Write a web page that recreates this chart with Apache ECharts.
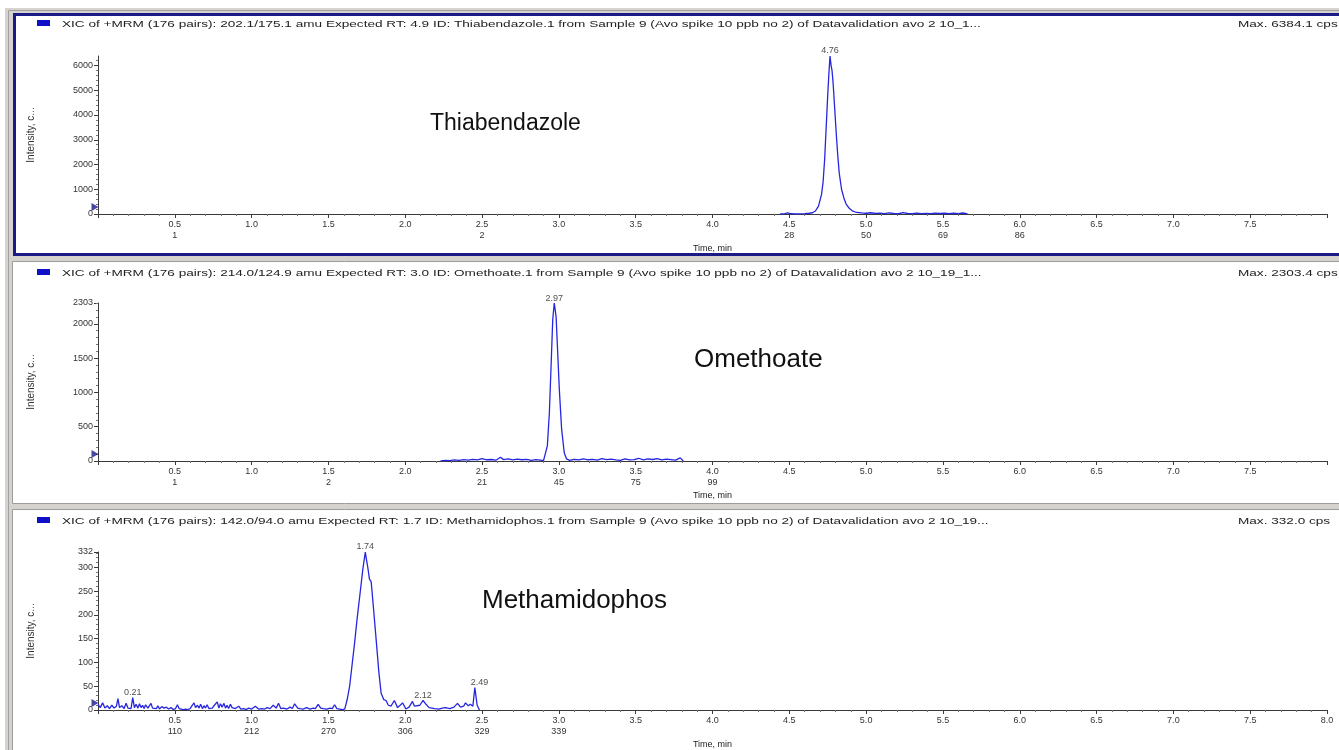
<!DOCTYPE html>
<html><head><meta charset="utf-8">
<script src="https://cdn.jsdelivr.net/npm/echarts@6/dist/echarts.min.js"></script>
<style>html,body{margin:0;padding:0;background:#fff}#c{width:1339px;height:750px}</style>
</head><body><div id="c"></div>
<script>
// ---------- DATA ----------
const headers = [
  'XIC of +MRM (176 pairs): 202.1/175.1 amu Expected RT: 4.9 ID: Thiabendazole.1 from Sample 9 (Avo spike 10 ppb no 2) of Datavalidation avo 2 10_1...',
  'XIC of +MRM (176 pairs): 214.0/124.9 amu Expected RT: 3.0 ID: Omethoate.1 from Sample 9 (Avo spike 10 ppb no 2) of Datavalidation avo 2 10_19_1...',
  'XIC of +MRM (176 pairs): 142.0/94.0 amu Expected RT: 1.7 ID: Methamidophos.1 from Sample 9 (Avo spike 10 ppb no 2) of Datavalidation avo 2 10_19...'
];
const maxTexts = ['Max. 6384.1 cps', 'Max. 2303.4 cps', 'Max. 332.0 cps'];
const compounds = ['Thiabendazole', 'Omethoate', 'Methamidophos'];
const yMax = [6384.1, 2303.4, 332.0];
const yLabelValues1 = [0, 1000, 2000, 3000, 4000, 5000, 6000];
const yLabelValues2 = [0, 500, 1000, 1500, 2000, 2303.4];
const yLabelValues3 = [0, 50, 100, 150, 200, 250, 300, 332.0];
const xMax = 8.0;

// secondary (scan number) labels under time ticks
const scanTimes1 = [0.5, 2.5, 4.5, 5.0, 5.5, 6.0];
const scanNums1  = ['1', '2', '28', '50', '69', '86'];
const scanTimes2 = [0.5, 1.5, 2.5, 3.0, 3.5, 4.0];
const scanNums2  = ['1', '2', '21', '45', '75', '99'];
const scanTimes3 = [0.5, 1.0, 1.5, 2.0, 2.5, 3.0];
const scanNums3  = ['110', '212', '270', '306', '329', '339'];

// Thiabendazole trace
const thiaTime = [4.44,4.47,4.49,4.51,4.54,4.57,4.60,4.63,4.65,4.67,4.69,4.71,4.72,4.73,4.74,4.75,4.757,4.765,4.772,4.778,4.785,4.795,4.805,4.815,4.825,4.84,4.855,4.87,4.89,4.91,4.93,4.95,4.97,5.00,5.03,5.06,5.09,5.12,5.15,5.18,5.21,5.24,5.27,5.30,5.33,5.36,5.39,5.42,5.45,5.48,5.51,5.54,5.57,5.60,5.63,5.66];
const thiaInt  = [0,15,45,10,0,5,15,30,50,120,320,800,1300,2200,3500,4800,5600,6384,6000,5800,5300,4300,3300,2400,1650,1000,650,400,230,130,80,60,45,30,50,20,35,15,45,20,10,55,20,15,35,10,25,15,35,20,30,10,30,15,40,0];

// Omethoate trace
const omeTime = [2.23,2.26,2.29,2.32,2.35,2.38,2.41,2.44,2.47,2.50,2.53,2.56,2.59,2.62,2.64,2.67,2.70,2.73,2.76,2.79,2.82,2.85,2.88,2.90,2.91,2.925,2.938,2.95,2.96,2.97,2.982,2.99,3.003,3.018,3.035,3.05,3.07,3.10,3.13,3.16,3.19,3.22,3.25,3.28,3.31,3.34,3.37,3.40,3.43,3.46,3.49,3.52,3.55,3.58,3.61,3.64,3.67,3.70,3.73,3.76,3.79,3.81];
const omeInt  = [0,8,5,15,10,20,12,25,15,35,18,22,12,55,20,30,15,28,18,25,10,20,12,5,15,220,700,1430,2060,2303,2100,1700,1040,460,120,30,10,25,15,30,18,25,12,35,20,28,15,10,30,15,20,40,18,30,22,35,15,28,20,12,45,0];

// Methamidophos trace
const metTime = [0.00,0.015,0.03,0.045,0.06,0.075,0.09,0.105,0.12,0.13,0.14,0.155,0.17,0.183,0.195,0.205,0.215,0.226,0.237,0.248,0.26,0.27,0.28,0.29,0.30,0.31,0.325,0.335,0.345,0.355,0.366,0.38,0.39,0.40,0.415,0.43,0.445,0.46,0.475,0.49,0.505,0.517,0.528,0.54,0.555,0.57,0.585,0.60,0.612,0.625,0.635,0.647,0.658,0.668,0.68,0.69,0.70,0.71,0.722,0.733,0.744,0.755,0.766,0.776,0.787,0.797,0.808,0.82,0.83,0.84,0.85,0.862,0.873,0.884,0.894,0.905,0.916,0.93,0.948,0.965,0.98,1.00,1.024,1.045,1.067,1.085,1.10,1.12,1.14,1.16,1.175,1.19,1.207,1.23,1.25,1.265,1.28,1.30,1.315,1.335,1.358,1.38,1.40,1.415,1.433,1.45,1.466,1.49,1.51,1.525,1.54,1.555,1.573,1.59,1.606,1.622,1.638,1.654,1.670,1.686,1.703,1.724,1.74,1.748,1.756,1.767,1.778,1.793,1.810,1.828,1.843,1.860,1.875,1.89,1.907,1.929,1.95,1.967,1.983,2.004,2.025,2.047,2.06,2.073,2.095,2.116,2.135,2.155,2.19,2.22,2.24,2.263,2.29,2.317,2.34,2.36,2.38,2.392,2.41,2.424,2.44,2.453,2.468,2.483,2.495,2.51];
const metInt  = [12,5,15,4,9,3,10,4,8,24,5,9,3,14,4,6,3,26,5,12,4,13,5,10,3,11,4,9,14,4,8,3,9,2,7,4,6,2,5,1,3,11,3,6,1,2,1,3,9,15,5,10,4,12,3,9,4,11,3,7,4,9,5,17,4,13,6,14,4,10,3,12,5,9,3,7,8,2,3,1,4,2,8,2,3,2,5,3,10,4,14,3,4,2,6,3,13,4,3,2,5,2,4,3,12,4,3,2,4,3,11,3,2,1,2,22,50,95,140,190,237,296,332,315,300,275,270,215,150,80,35,22,20,10,8,20,5,10,15,2,6,18,8,5,10,20,12,5,3,2,4,5,3,6,14,6,8,15,9,12,8,47,10,0];

// peak annotations: [time, intensity, text]
const peaks1 = [[4.765, 6384, '4.76']];
const peaks2 = [[2.97, 2303, '2.97']];
const peaks3 = [[1.74, 332, '1.74'], [0.226, 26, '0.21'], [2.116, 20, '2.12'], [2.483, 47, '2.49']];

// ---------- CHART ----------
const FONT = '"Liberation Sans", Arial, sans-serif';
const LINE = '#2626e0';
const AX = '#3a3a3a';
const gridTops = [56, 303, 552];
const gridH = 158;
const panelTops = [12, 261, 509];

function zip(a, b) { return a.map((t, i) => [t, b[i]]); }

function xAxis(i, scanTimes, scanNums, showEnd) {
  return {
    type: 'value', gridIndex: i, min: 0, max: xMax, interval: 0.5,
    name: 'Time, min', nameLocation: 'middle', nameGap: 30,
    nameTextStyle: { fontFamily: FONT, fontSize: 9, color: '#222' },
    axisLine: { show: true, lineStyle: { color: AX, width: 1 } },
    axisTick: { show: true, length: 4, lineStyle: { color: AX } },
    minorTick: { show: true, splitNumber: 5, length: 2, lineStyle: { color: '#777' } },
    splitLine: { show: false },
    axisLabel: {
      fontFamily: FONT, fontSize: 9, color: '#333', margin: 5, lineHeight: 11,
      showMinLabel: false, showMaxLabel: true,
      formatter: function (v) {
        if (v === 0) return '';
        if (v >= xMax && !showEnd) return '';
        const k = scanTimes.findIndex(t => Math.abs(t - v) < 1e-6);
        return v.toFixed(1) + '\n' + (k >= 0 ? scanNums[k] : ' ');
      }
    }
  };
}

function yAxis(i, labelVals, interval) {
  return {
    type: 'value', gridIndex: i, min: 0, max: yMax[i], interval: interval,
    name: 'Intensity, c...', nameLocation: 'middle', nameGap: 62, nameRotate: 90,
    nameTextStyle: { fontFamily: '"Liberation Sans Narrow", "Liberation Sans", Arial, sans-serif', fontSize: 10, color: '#333' },
    axisLine: { show: true, lineStyle: { color: AX, width: 1 } },
    axisTick: { show: true, length: 4, lineStyle: { color: AX }, customValues: labelVals },
    minorTick: { show: true, splitNumber: 5, length: 2, lineStyle: { color: '#777' } },
    splitLine: { show: false },
    axisLabel: {
      fontFamily: FONT, fontSize: 9, color: '#333', margin: 5,
      customValues: labelVals,
      formatter: v => String(Math.round(v))
    }
  };
}

function peakSeries(i, pk) {
  return {
    type: 'scatter', xAxisIndex: i, yAxisIndex: i, data: pk,
    symbolSize: 1, itemStyle: { color: 'rgba(0,0,0,0)' }, silent: true, z: 5,
    label: { show: true, position: 'top', distance: 0, fontFamily: FONT, fontSize: 9, color: '#222',
      formatter: p => p.data[2] }
  };
}
function markerSeries(i) {
  return {
    type: 'scatter', xAxisIndex: i, yAxisIndex: i, data: [[0, 0]], silent: true, z: 6,
    symbol: 'triangle', symbolRotate: -90, symbolSize: [8, 7], symbolOffset: [-3, -7],
    itemStyle: { color: '#1a1a8c' }, clip: false
  };
}
function lineSeries(i, data) {
  return {
    type: 'line', xAxisIndex: i, yAxisIndex: i, data: data, showSymbol: false, symbol: 'none',
    lineStyle: { color: LINE, width: 1.3 }, silent: true, z: 3, clip: true
  };
}

const graphics = [];
// grey window background
graphics.push({ type: 'rect', z: -20, shape: { x: 5, y: 8, width: 1340, height: 750 }, style: { fill: '#d6d3ce' } });
graphics.push({ type: 'rect', z: -19, shape: { x: 8.5, y: 10.5, width: 1340, height: 748 }, style: { fill: 'none', stroke: '#a0a0a0', lineWidth: 1 } });
// panels
const panelH = [245, 244, 245];
for (let i = 0; i < 3; i++) {
  const active = i === 0;
  graphics.push({ type: 'rect', z: -15,
    shape: { x: active ? 14.5 : 12.5, y: panelTops[i] + (active ? 2.5 : 0.5), width: 1340, height: panelH[i] - (active ? 5 : 2) },
    style: { fill: '#fff', stroke: active ? '#1a1a86' : '#9c9c9c', lineWidth: active ? 3 : 1 } });
  // header marker
  graphics.push({ type: 'rect', z: 10, shape: { x: 37, y: panelTops[i] + 8, width: 13, height: 6 }, style: { fill: '#1010c8' } });
  graphics.push({ type: 'text', z: 10, x: 62, y: panelTops[i] + 12, scaleX: 1.43,
    style: { text: headers[i], fontFamily: FONT, fontSize: 9.5, fill: '#222', textVerticalAlign: 'middle' } });
  graphics.push({ type: 'text', z: 10, x: 1238, y: panelTops[i] + 12, scaleX: 1.43,
    style: { text: maxTexts[i], fontFamily: FONT, fontSize: 9.5, fill: '#222', textVerticalAlign: 'middle' } });
}
const compoundPos = [[430, 124], [694, 360], [482, 601]];
const compoundSize = [23, 26, 26];
for (let i = 0; i < 3; i++) {
  graphics.push({ type: 'text', z: 10, x: compoundPos[i][0], y: compoundPos[i][1],
    style: { text: compounds[i], fontFamily: FONT, fontSize: compoundSize[i], fill: '#111', textVerticalAlign: 'middle' } });
}

const chart = echarts.init(document.getElementById('c'), null, { renderer: 'canvas' });
chart.setOption({
  animation: false,
  backgroundColor: '#ffffff',
  grid: gridTops.map(t => ({ left: 98, top: t, width: 1229, height: gridH, containLabel: false })),
  xAxis: [xAxis(0, scanTimes1, scanNums1, false), xAxis(1, scanTimes2, scanNums2, false), xAxis(2, scanTimes3, scanNums3, true)],
  yAxis: [yAxis(0, yLabelValues1, 1000), yAxis(1, yLabelValues2, 500), yAxis(2, yLabelValues3, 50)],
  series: [
    lineSeries(0, zip(thiaTime, thiaInt)),
    lineSeries(1, zip(omeTime, omeInt)),
    lineSeries(2, zip(metTime, metInt)),
    peakSeries(0, peaks1), peakSeries(1, peaks2), peakSeries(2, peaks3),
    markerSeries(0), markerSeries(1), markerSeries(2)
  ],
  graphic: { elements: graphics }
});
</script></body></html>
